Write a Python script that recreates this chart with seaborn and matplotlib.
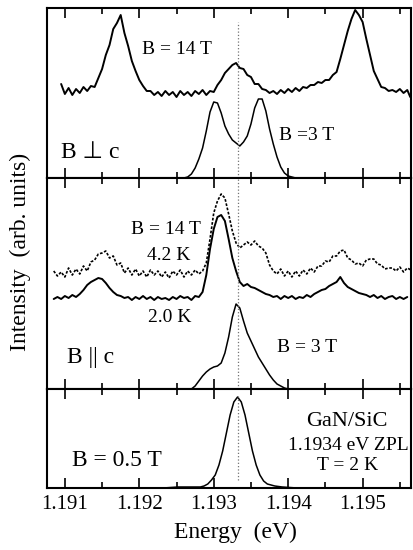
import matplotlib
matplotlib.use("Agg")
import matplotlib.pyplot as plt
from matplotlib.ticker import MultipleLocator, FormatStrFormatter
import pandas as pd
import seaborn as sns

# ---------------- B perpendicular to c ----------------
perp_14T_energy = [
    1.19095, 1.19100, 1.19105, 1.19110, 1.19115, 1.19120, 1.19125, 1.19130, 1.19135, 1.19140,
    1.19145, 1.19150, 1.19155, 1.19160, 1.19165, 1.19170, 1.19175, 1.19180, 1.19185, 1.19190,
    1.19195, 1.19200, 1.19205, 1.19210, 1.19215, 1.19220, 1.19225, 1.19230, 1.19235, 1.19240,
    1.19245, 1.19250, 1.19255, 1.19260, 1.19265, 1.19270, 1.19275, 1.19280, 1.19285, 1.19290,
    1.19295, 1.19300, 1.19305, 1.19310, 1.19315, 1.19320, 1.19325, 1.19330, 1.19335, 1.19340,
    1.19345, 1.19350, 1.19355, 1.19360, 1.19365, 1.19370, 1.19375, 1.19380, 1.19385, 1.19390,
    1.19395, 1.19400, 1.19405, 1.19410, 1.19415, 1.19420, 1.19425, 1.19430, 1.19435, 1.19440,
    1.19445, 1.19450, 1.19455, 1.19460, 1.19465, 1.19470, 1.19475, 1.19480, 1.19485, 1.19490,
    1.19495, 1.19500, 1.19505, 1.19510, 1.19515, 1.19520, 1.19525, 1.19530, 1.19535, 1.19540,
    1.19545, 1.19550, 1.19555, 1.19560, 1.19564,
]
perp_14T_intensity = [
    94, 84, 90, 83, 89, 85, 91, 87, 92, 91,
    100, 109, 123, 133, 149, 155, 163, 145, 132, 117,
    107, 98, 92, 87, 87, 83, 86, 82, 87, 83,
    86, 81, 87, 83, 86, 82, 87, 84, 88, 83,
    87, 86, 93, 98, 105, 109, 113, 115, 110, 109,
    103, 101, 94, 94, 89, 88, 85, 87, 84, 88,
    85, 89, 86, 90, 87, 91, 90, 93, 93, 96,
    95, 98, 98, 103, 106, 119, 133, 147, 159, 168,
    163, 156, 139, 123, 107, 99, 91, 90, 87, 88,
    86, 89, 85, 88, 81,
]
perp_3T_energy = [
    1.19260, 1.19265, 1.19270, 1.19275, 1.19280, 1.19285, 1.19290, 1.19295, 1.19300, 1.19305,
    1.19310, 1.19315, 1.19320, 1.19325, 1.19330, 1.19335, 1.19340, 1.19345, 1.19350, 1.19355,
    1.19360, 1.19365, 1.19370, 1.19375, 1.19380, 1.19385, 1.19390, 1.19395, 1.19400, 1.19405,
    1.19410,
]
perp_3T_intensity = [
    0, 1, 4, 10, 19, 30, 47, 66, 76, 75,
    65, 52, 44, 38, 35, 32, 36, 42, 54, 70,
    79, 79, 67, 49, 34, 21, 11, 5, 2, 1,
    0,
]

# ---------------- B parallel to c ----------------
par_14T_energy = [
    1.19085, 1.19090, 1.19095, 1.19100, 1.19105, 1.19110, 1.19115, 1.19120, 1.19125, 1.19130,
    1.19135, 1.19140, 1.19145, 1.19150, 1.19155, 1.19160, 1.19165, 1.19170, 1.19175, 1.19180,
    1.19185, 1.19190, 1.19195, 1.19200, 1.19205, 1.19210, 1.19215, 1.19220, 1.19225, 1.19230,
    1.19235, 1.19240, 1.19245, 1.19250, 1.19255, 1.19260, 1.19265, 1.19270, 1.19275, 1.19280,
    1.19285, 1.19290, 1.19295, 1.19300, 1.19305, 1.19310, 1.19315, 1.19320, 1.19325, 1.19330,
    1.19335, 1.19340, 1.19345, 1.19350, 1.19355, 1.19360, 1.19365, 1.19370, 1.19375, 1.19380,
    1.19385, 1.19390, 1.19395, 1.19400, 1.19405, 1.19410, 1.19415, 1.19420, 1.19425, 1.19430,
    1.19435, 1.19440, 1.19445, 1.19450, 1.19455, 1.19460, 1.19465, 1.19470, 1.19475, 1.19480,
    1.19485, 1.19490, 1.19495, 1.19500, 1.19505, 1.19510, 1.19515, 1.19520, 1.19525, 1.19530,
    1.19535, 1.19540, 1.19545, 1.19550, 1.19555, 1.19560, 1.19565,
]
par_14T_4K2 = [
    118, 113, 117, 112, 121, 114, 120, 115, 123, 118,
    127, 129, 135, 136, 138, 131, 133, 124, 126, 116,
    121, 114, 120, 113, 118, 112, 119, 114, 118, 112,
    117, 111, 118, 114, 119, 112, 118, 114, 119, 115,
    118, 126, 150, 176, 188, 195, 191, 175, 158, 146,
    141, 144, 147, 144, 148, 143, 141, 136, 124, 118,
    115, 120, 113, 118, 112, 118, 113, 119, 115, 121,
    117, 123, 123, 128, 127, 133, 133, 138, 139, 131,
    129, 125, 126, 123, 129, 130, 130, 125, 124, 120,
    121, 121, 118, 122, 117, 121, 119,
]
par_14T_2K0 = [
    90, 92, 90, 93, 91, 94, 92, 95, 99, 104,
    107, 109, 111, 110, 106, 101, 97, 94, 93, 91,
    92, 89, 92, 90, 93, 90, 92, 89, 92, 90,
    91, 89, 92, 90, 93, 91, 92, 89, 93, 92,
    97, 114, 140, 160, 172, 174, 168, 150, 131, 118,
    107, 103, 105, 102, 101, 99, 97, 95, 94, 92,
    93, 90, 93, 91, 93, 90, 92, 91, 94, 92,
    95, 97, 99, 100, 103, 105, 107, 112, 106, 102,
    100, 98, 96, 95, 94, 92, 94, 91, 93, 90,
    92, 93, 90, 92, 90, 92,
]
par_3T_energy = [
    1.19270, 1.19275, 1.19280, 1.19285, 1.19290, 1.19295, 1.19300, 1.19305, 1.19310, 1.19315,
    1.19320, 1.19325, 1.19330, 1.19335, 1.19340, 1.19345, 1.19350, 1.19355, 1.19360, 1.19365,
    1.19370, 1.19375, 1.19380, 1.19385, 1.19390, 1.19395, 1.19400,
]
par_3T_intensity = [
    0, 3, 8, 13, 17, 20, 22, 23, 26, 36,
    52, 72, 85, 81, 68, 56, 48, 40, 32, 26,
    20, 14, 9, 5, 3, 1, 0,
]

# ---------------- B = 0.5 T ----------------
low_energy = [
    1.19232, 1.19252, 1.19272, 1.19282, 1.19287, 1.19292, 1.19297, 1.19302, 1.19307, 1.19312,
    1.19317, 1.19322, 1.19327, 1.19332, 1.19337, 1.19342, 1.19347, 1.19352, 1.19357, 1.19362,
    1.19367, 1.19372, 1.19377, 1.19382, 1.19392, 1.19412,
]
low_intensity = [
    0, 1, 1, 1, 2, 4, 8, 13, 23, 37,
    55, 73, 86, 91, 86, 73, 55, 37, 23, 13,
    7, 4, 3, 2, 1, 0,
]

zpl_energy = 1.19333
tick_values = [1.191, 1.192, 1.193, 1.194, 1.195]

# ---------------- figure ----------------
sns.set_theme(style="ticks")
plt.rcParams["font.family"] = ["Liberation Serif", "DejaVu Sans"]

W, H = 414, 550
fig = plt.figure(figsize=(W / 100, H / 100), dpi=100)
gs = fig.add_gridspec(3, 1, height_ratios=[170, 211, 99], hspace=0,
                      left=47 / W, right=411 / W, top=1 - 8 / H, bottom=1 - 488 / H)
ax_top = fig.add_subplot(gs[0])
ax_mid = fig.add_subplot(gs[1], sharex=ax_top)
ax_bot = fig.add_subplot(gs[2], sharex=ax_top)

smooth_kw = dict(color="black", linewidth=1.1, estimator=None, sort=False, legend=False)
noisy_kw = dict(color="black", linewidth=1.4, estimator=None, sort=False, legend=False)

sns.lineplot(data=pd.DataFrame({"E": perp_14T_energy, "I": perp_14T_intensity}),
             x="E", y="I", ax=ax_top, **noisy_kw)
sns.lineplot(data=pd.DataFrame({"E": perp_3T_energy, "I": perp_3T_intensity}),
             x="E", y="I", ax=ax_top, **smooth_kw)

sns.lineplot(data=pd.DataFrame({"E": par_14T_energy, "I": par_14T_4K2}),
             x="E", y="I", ax=ax_mid, color="black", linewidth=1.2,
             estimator=None, sort=False, legend=False, linestyle=(0, (1.6, 1.0)))
sns.lineplot(data=pd.DataFrame({"E": par_14T_energy[:-1], "I": par_14T_2K0}),
             x="E", y="I", ax=ax_mid, **noisy_kw)
sns.lineplot(data=pd.DataFrame({"E": par_3T_energy, "I": par_3T_intensity}),
             x="E", y="I", ax=ax_mid, **smooth_kw)

sns.lineplot(data=pd.DataFrame({"E": low_energy, "I": low_intensity}),
             x="E", y="I", ax=ax_bot, **smooth_kw)

ax_top.set_ylim(0, 170)
ax_mid.set_ylim(0, 211)
ax_bot.set_ylim(0, 99)
ax_top.set_xlim(1.19076, 1.19565)

ax_top.axvline(zpl_energy, ymin=0.0, ymax=0.92, color="0.45", linestyle=":", linewidth=0.9)
ax_mid.axvline(zpl_energy, color="0.45", linestyle=":", linewidth=0.9)
ax_bot.axvline(zpl_energy, ymin=0.08, ymax=0.93, color="0.45", linestyle=":", linewidth=0.9)

for ax in (ax_top, ax_mid, ax_bot):
    ax.set_xlabel("")
    ax.set_ylabel("")
    ax.set_yticks([])
    ax.set_xticks(tick_values)
    ax.xaxis.set_minor_locator(MultipleLocator(0.0005))
    ax.tick_params(axis="x", which="both", direction="in", top=True, bottom=True,
                   color="black", width=1.2)
    ax.tick_params(axis="x", which="major", length=7)
    ax.tick_params(axis="x", which="minor", length=4)
    for s in ax.spines.values():
        s.set_visible(True)
        s.set_color("black")
        s.set_linewidth(1.5)
    ax.set_facecolor("white")

for ax in (ax_top, ax_mid):
    ax.tick_params(axis="x", which="both", labelbottom=False)
ax_bot.xaxis.set_major_formatter(FormatStrFormatter("%.3f"))
ax_bot.tick_params(axis="x", labelsize=15, pad=5, labelcolor="black")


def put(px, py, s, size, ha="center"):
    fig.text(px / W, 1 - py / H, s, fontsize=size, ha=ha, va="center", color="black")


# annotations
put(177, 50, "B = 14 T", 14)
put(307, 136, "B =3 T", 14)
put(90, 153, "B \u22a5 c", 17)

put(166, 229, "B = 14 T", 14)
put(169, 256, "4.2 K", 14)
put(170, 318, "2.0 K", 14)
put(91, 358, "B || c", 17)
put(307, 347, "B = 3 T", 14)

put(117, 460, "B = 0.5 T", 17)
put(347, 422, "GaN/SiC", 16)
put(288, 445, "1.1934 eV ZPL", 14, ha="left")
put(348, 466, "T = 2 K", 14)

put(235, 532, "Energy  (eV)", 17)
fig.text(20 / W, 1 - 252 / H, "Intensity  (arb. units)", fontsize=17,
         rotation=90, ha="center", va="center", color="black")

fig.savefig("out.png", dpi=100, facecolor="white")
